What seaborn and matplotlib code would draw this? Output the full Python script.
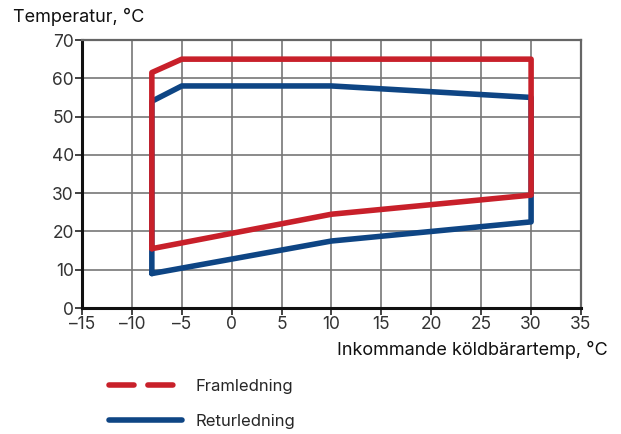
import matplotlib.pyplot as plt
from matplotlib.lines import Line2D
import seaborn as sns
import pandas as pd

# working area outline
fram_x = [-8, -8, -5, 30, 30, 10, -8]
fram_y = [15.5, 61.5, 65, 65, 29.5, 24.5, 15.5]
retur_x = [-8, -8, -5, 10, 30, 30, 10, -8]
retur_y = [9, 54, 58, 58, 55, 22.5, 17.5, 9]

labels = ["Framledning", "Returledning"]
red = "#c8202a"
blue = "#0e4584"

sns.set_style("white")
plt.rcParams['font.family'] = ['Inter', 'DejaVu Sans']

fig = plt.figure(figsize=(6.21, 4.34), dpi=100)
ax = fig.add_axes([0.132, 0.2903, 0.8036, 0.6175])

df_retur = pd.DataFrame({"x": retur_x, "y": retur_y})
df_fram = pd.DataFrame({"x": fram_x, "y": fram_y})
sns.lineplot(data=df_retur, x="x", y="y", sort=False, estimator=None, color=blue,
             linewidth=4, ax=ax, zorder=3)
sns.lineplot(data=df_fram, x="x", y="y", sort=False, estimator=None, color=red,
             linewidth=4, ax=ax, zorder=4)

ax.set_xlim(-15, 35)
ax.set_ylim(0, 70)
ax.set_xticks(range(-15, 36, 5))
ax.set_yticks(range(0, 71, 10))
ax.set_xticklabels([str(v).replace("-", "\u2013") for v in range(-15, 36, 5)])
ax.grid(True, color="#777777", linewidth=1.2)
ax.set_axisbelow(True)
ax.tick_params(axis="both", labelsize=12.5, labelcolor="#333333", length=5,
               width=1.2, color="#222222", direction="out", pad=1,
               bottom=True, left=True)
for s in ["left", "bottom"]:
    ax.spines[s].set_color("#111111")
    ax.spines[s].set_linewidth(2.2)
for s in ["top", "right"]:
    ax.spines[s].set_color("#666666")
    ax.spines[s].set_linewidth(1.6)
ax.set_xlabel("")
ax.set_ylabel("")

fig.text(13 / 621, 1 - 17 / 434, "Temperatur, \u00b0C", fontsize=13, color="#111111",
         ha="left", va="center")
fig.text(608 / 621, 1 - 350 / 434, "Inkommande k\u00f6ldb\u00e4rartemp, \u00b0C", fontsize=13,
         color="#111111", ha="right", va="center")

handles = [
    Line2D([0], [0], color=red, linewidth=4, linestyle=(0, (4.5, 2.5)),
           dash_capstyle="round"),
    Line2D([0], [0], color=blue, linewidth=4, solid_capstyle="round"),
]
fig.legend(handles, labels, loc="upper left", bbox_to_anchor=(102 / 621, 1 - 372 / 434),
           frameon=False, fontsize=12, handlelength=4.4, handletextpad=0.8,
           labelspacing=1.2, borderaxespad=0)

fig.savefig("out.png", dpi=100)
